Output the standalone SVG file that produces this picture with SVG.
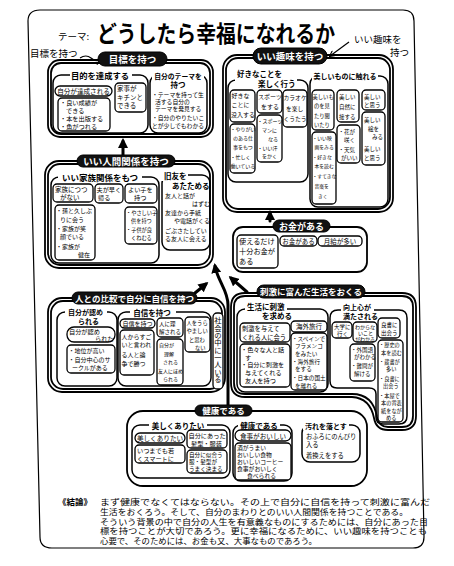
<svg xmlns="http://www.w3.org/2000/svg" width="454" height="566" viewBox="0 0 454 566">
<style>
text{font-family:"Noto Sans CJK JP","Noto Sans CJK SC",sans-serif;fill:#000}
.hd{font-weight:700}
.box{fill:#fff;stroke:#000;stroke-width:1.3}
.grp{fill:none;stroke:#000;stroke-width:1.5}
.out{fill:none;stroke:#000;stroke-width:1.8}
.pill{fill:#111;stroke:#000;stroke-width:1}
.pt{font-weight:700;fill:#fff;text-anchor:middle}
.hb{fill:#fff;stroke:none}
.mid{text-anchor:middle}
.con{fill:none;stroke:#000;stroke-width:3;stroke-linecap:round}
.thin{fill:none;stroke:#000;stroke-width:1.2}
</style>
<defs>
<marker id="ah" viewBox="0 0 10 10" refX="7" refY="5" markerWidth="10" markerHeight="10" markerUnits="userSpaceOnUse" orient="auto"><path d="M0,0 L10,5 L0,10 z" fill="#000"/></marker>
<marker id="as" viewBox="0 0 10 10" refX="8" refY="5" markerWidth="7" markerHeight="7" markerUnits="userSpaceOnUse" orient="auto"><path d="M1,1 L9,5 L1,9" fill="none" stroke="#000" stroke-width="1.6"/></marker>
</defs>
<rect width="454" height="566" fill="#fff"/>
<path d="M40,10 H403 Q414,10 414,21 L424,537 Q424,548 413,548 H52 Q40,548 40,537 L28,21 Q28,10 40,10 Z" fill="none" stroke="#000" stroke-width="1.2"/>

<g id="title">
<text x="58" y="40" font-size="9.5">テーマ:</text>
<text transform="translate(97,42) scale(1,1.15)" x="0" y="0" font-size="19.8" class="hd" textLength="238" lengthAdjust="spacingAndGlyphs">どうしたら幸福になれるか</text>
<text x="30" y="57" font-size="9.5">目標を持つ</text>
<text x="354" y="43" font-size="9.5">いい趣味を</text>
<text x="390" y="56" font-size="9.5">持つ</text>
</g>

<g id="connectors">
<path class="thin" d="M80,58 Q86,54 91,58 T100,60" marker-end="url(#as)"/>
<path class="thin" d="M349,42 L330,56" marker-end="url(#as)"/>
<path class="con" d="M123,155 V141" marker-end="url(#ah)"/>
<path class="con" d="M270,221 V213" marker-end="url(#ah)"/>
<path class="con" d="M228,405 V305 C228,290 218,282 215,266" marker-end="url(#ah)"/>
<path class="con" d="M247,292 L231,278" marker-end="url(#ah)"/>
<path class="con" d="M195,293 L206,284" marker-end="url(#ah)"/>
</g>

<g id="n-goal">
<rect class="out" x="48" y="60" width="165" height="77" rx="12"/>
<rect class="out" x="51" y="63" width="159" height="71" rx="10"/>
<rect class="grp" x="53" y="75" width="95" height="58" rx="8"/>
<rect class="hb" x="70" y="70" width="62" height="10"/>
<text class="hd mid" x="100" y="79" font-size="8.3">目的を達成する</text>
<rect class="grp" x="150" y="75" width="57" height="58" rx="8"/>
<rect class="hb" x="152" y="70" width="52" height="10"/>
<text class="hd mid" x="178" y="78.5" font-size="6.8">自分のテーマを</text>
<text class="hd mid" x="178" y="88" font-size="7.5">持つ</text>
<rect class="box" x="55" y="86" width="57" height="10" rx="5"/>
<text class="mid" x="83.5" y="93.5" font-size="6.6">自分が達成される</text>
<rect class="box" x="58" y="98" width="52" height="33" rx="4"/>
<text font-size="6.2"><tspan x="60" y="105">・良い成績が</tspan><tspan x="66" y="113">できる</tspan><tspan x="60" y="121">・本を出版する</tspan><tspan x="60" y="129">・魚がつれる</tspan></text>
<rect class="box" x="115" y="83" width="31" height="29" rx="4"/>
<text font-size="6.5"><tspan x="117" y="91">家事が</tspan><tspan x="117" y="99.5">キチンと</tspan><tspan x="117" y="108">できる</tspan></text>
<text font-size="5.8"><tspan x="152" y="97">・テーマを持って生</tspan><tspan x="155" y="104">活する自分の</tspan><tspan x="155" y="111">テーマを発見する</tspan><tspan x="152" y="120">・自分のやりたいこ</tspan><tspan x="152" y="127.5">とが少しでもわかる</tspan></text>
<rect class="pill" x="98" y="52" width="69" height="14" rx="7"/>
<text class="pt" x="132.5" y="62.8" font-size="9.5">目標を持つ</text>
</g>

<g id="n-hobby">
<rect class="out" x="223" y="55" width="170" height="157" rx="14"/>
<rect class="out" x="226" y="58" width="164" height="151" rx="12"/>
<rect class="grp" x="228" y="80" width="80" height="102" rx="8"/>
<rect class="hb" x="235" y="70" width="62" height="19"/>
<text class="hd" x="237" y="77" font-size="7.5">好きなことを</text>
<text class="hd" x="258" y="86.5" font-size="7.5">楽しく行う</text>
<rect class="grp" x="310" y="76" width="78" height="131" rx="8"/>
<rect class="hb" x="312" y="71" width="66" height="10"/>
<text class="hd mid" x="345" y="79" font-size="7">美しいものに触れる</text>
<rect class="box" x="230" y="90" width="25" height="32" rx="4"/>
<text font-size="6"><tspan x="231.5" y="98">好きな</tspan><tspan x="231.5" y="107">ことに</tspan><tspan x="231" y="117">没入する</tspan></text>
<rect class="box" x="230" y="124" width="25" height="49" rx="4"/>
<text font-size="5"><tspan x="230.5" y="131">・やりがい</tspan><tspan x="233" y="140">のある仕</tspan><tspan x="233" y="149">事をもつ</tspan><tspan x="230.5" y="159">・忙しく</tspan><tspan x="230.5" y="168">働いている</tspan></text>
<rect class="box" x="257" y="90" width="25" height="23" rx="4"/>
<text font-size="6"><tspan x="258" y="99">スポーツ</tspan><tspan x="261" y="109">をする</tspan></text>
<rect class="box" x="257" y="115" width="25" height="47" rx="4"/>
<text font-size="5"><tspan x="257.5" y="123">・スポーツ</tspan><tspan x="262" y="132">マンに</tspan><tspan x="268" y="141">なる</tspan><tspan x="257.5" y="150">・いい汗</tspan><tspan x="262" y="158">をかく</tspan></text>
<rect class="box" x="283" y="90" width="24" height="37" rx="4"/>
<text font-size="5.8"><tspan x="283.5" y="100">カラオケ</tspan><tspan x="286" y="111">を楽し</tspan><tspan x="283.5" y="121">くうたう</tspan></text>
<rect class="box" x="312" y="90" width="22" height="40" rx="4"/>
<text font-size="5.3"><tspan x="312.5" y="98.5">美しいも</tspan><tspan x="314" y="108">のを見</tspan><tspan x="314" y="117.5">たり聞</tspan><tspan x="314" y="127">いたり</tspan></text>
<rect class="box" x="312" y="132" width="24" height="72" rx="4"/>
<text font-size="4.8"><tspan x="312.5" y="140">・いい映</tspan><tspan x="314.5" y="149">画をみる</tspan><tspan x="312.5" y="159">・好きな</tspan><tspan x="314.5" y="168">本を読む</tspan><tspan x="312.5" y="178">・すてきな</tspan><tspan x="314.5" y="188">音楽を</tspan><tspan x="318" y="198">きく</tspan></text>
<rect class="box" x="337" y="90" width="22" height="32" rx="4"/>
<text font-size="5.5"><tspan x="339" y="99">美しい</tspan><tspan x="339" y="109">自然に</tspan><tspan x="339" y="119">接する</tspan></text>
<rect class="box" x="337" y="125" width="23" height="38" rx="4"/>
<text font-size="5.5"><tspan x="338.5" y="134">・花が</tspan><tspan x="344" y="142">咲く</tspan><tspan x="338.5" y="152">・天気</tspan><tspan x="341" y="160">がいい</tspan></text>
<rect class="box" x="362" y="90" width="23" height="20" rx="4"/>
<text font-size="5.5"><tspan x="364" y="98.5">美しい</tspan><tspan x="364" y="107">と思う</tspan></text>
<rect class="box" x="362" y="112" width="23" height="53" rx="4"/>
<text font-size="5.5"><tspan x="364" y="122">美しい</tspan><tspan x="368" y="131">絵を</tspan><tspan x="372" y="139">みる</tspan><tspan x="364" y="151">美しい</tspan><tspan x="364" y="160">と思う</tspan></text>
<rect class="pill" x="253" y="48" width="74" height="16" rx="8"/>
<text class="pt" x="290" y="59.5" font-size="9.5">いい趣味を持つ</text>
</g>

<g id="n-relation">
<rect class="out" x="45" y="161" width="168" height="107" rx="14"/>
<rect class="out" x="48" y="164" width="162" height="101" rx="12"/>
<rect class="grp" x="51" y="177" width="108" height="86" rx="8"/>
<rect class="hb" x="58" y="172" width="84" height="10"/>
<text class="hd mid" x="100" y="180.5" font-size="8.5">いい家族関係をもつ</text>
<rect class="grp" x="162" y="175" width="48" height="75" rx="8"/>
<rect class="hb" x="161" y="170" width="27" height="11"/>
<text class="hd" x="164" y="179" font-size="7.5">旧友を</text>
<text class="hd" x="172" y="189" font-size="7.5">あたためる</text>
<text font-size="6"><tspan x="165" y="198">友人と話が</tspan><tspan x="192" y="205.5">はずむ</tspan><tspan x="165" y="215">友達から手紙</tspan><tspan x="174" y="223">や電話がくる</tspan><tspan x="165" y="233">ごぶさたしてい</tspan><tspan x="165" y="241">る友人に会える</tspan></text>
<rect class="box" x="53" y="184" width="40" height="18" rx="4"/>
<text font-size="6.5"><tspan x="55" y="191.5">家族につつ</tspan><tspan x="60" y="199.5">がない</tspan></text>
<rect class="box" x="55" y="205" width="40" height="55" rx="4"/>
<text font-size="6"><tspan x="56" y="213">・孫と久しぶ</tspan><tspan x="60" y="221.5">りに会う</tspan><tspan x="56" y="230.5">・家族が笑</tspan><tspan x="60" y="239">顔でいる</tspan><tspan x="56" y="248.5">・家族が</tspan><tspan x="78" y="257">健在</tspan></text>
<rect class="box" x="95" y="184" width="28" height="19" rx="4"/>
<text font-size="6.2"><tspan x="96.5" y="192">夫が早く</tspan><tspan x="98" y="200">帰る</tspan></text>
<rect class="box" x="125" y="184" width="32" height="19" rx="4"/>
<text font-size="6.2"><tspan x="128" y="192">よい子を</tspan><tspan x="134" y="200">持つ</tspan></text>
<rect class="box" x="125" y="207" width="32" height="37" rx="4"/>
<text font-size="5.2"><tspan x="126" y="215">・やさしい子</tspan><tspan x="131" y="223">供を持つ</tspan><tspan x="126" y="232">・子供が良</tspan><tspan x="131" y="240">くねむる</tspan></text>
<rect class="pill" x="77" y="155" width="98" height="12" rx="6"/>
<text class="pt" x="126" y="164.7" font-size="9.5">いい人間関係を持つ</text>
</g>

<g id="n-money">
<rect class="out" x="233" y="227" width="134" height="45" rx="10"/>
<rect class="box" x="237" y="235" width="41" height="33" rx="4"/>
<text font-size="7.2"><tspan x="239" y="244">使えるだけ</tspan><tspan x="239" y="254">十分お金が</tspan><tspan x="239" y="264">ある</tspan></text>
<rect class="box" x="280" y="236" width="37" height="10" rx="4"/>
<text class="mid" x="298.5" y="243.5" font-size="6.5">お金がある</text>
<rect class="box" x="318" y="236" width="44" height="10" rx="4"/>
<text class="mid" x="340" y="243.5" font-size="6.5">月給が多い</text>
<rect class="pill" x="273" y="220" width="57" height="12" rx="6"/>
<text class="pt" x="301.5" y="229.8" font-size="9">お金がある</text>
</g>

<g id="n-confidence">
<rect class="out" x="48" y="298" width="177" height="94" rx="14"/>
<rect class="out" x="51" y="301" width="171" height="88" rx="12"/>
<rect class="grp" x="57" y="312" width="60" height="74" rx="8"/>
<rect class="hb" x="65" y="307" width="42" height="10"/>
<text class="hd" x="68" y="315" font-size="7">自分が認め</text>
<text class="hd" x="78" y="324" font-size="7">られる</text>
<rect class="box" x="67" y="327" width="48" height="15" rx="7"/>
<text font-size="6.2"><tspan x="69" y="334">自分が認め</tspan><tspan x="95" y="341">られた</tspan></text>
<rect class="box" x="67" y="345" width="48" height="28" rx="4"/>
<text font-size="6"><tspan x="68.5" y="353">・地位が高い</tspan><tspan x="68.5" y="361.5">・自分中心のサ</tspan><tspan x="72" y="370">ークルがある</tspan></text>
<rect class="grp" x="118" y="312" width="93" height="74" rx="8"/>
<rect class="hb" x="130" y="307" width="46" height="10"/>
<text class="hd mid" x="152" y="315.5" font-size="7.5">自信を持つ</text>
<rect class="box" x="120" y="319" width="35" height="9" rx="4.5"/>
<text class="mid" x="137.5" y="326" font-size="6">自信を持つ</text>
<rect class="box" x="120" y="330" width="34" height="45" rx="4"/>
<text font-size="6"><tspan x="121.5" y="338.5">人からすご</tspan><tspan x="121.5" y="347">いと言われ</tspan><tspan x="121.5" y="357">る人と論</tspan><tspan x="121.5" y="366">争で勝つ</tspan></text>
<rect class="box" x="157" y="318" width="26" height="19" rx="4"/>
<text font-size="5.5"><tspan x="159" y="326">人に理</tspan><tspan x="159" y="334">解される</tspan></text>
<rect class="box" x="157" y="339" width="26" height="46" rx="4"/>
<text font-size="5"><tspan x="159" y="347">自分が</tspan><tspan x="164" y="355.5">理解</tspan><tspan x="163" y="364">される</tspan><tspan x="158" y="372.5">友人にほめ</tspan><tspan x="163" y="381">られる</tspan></text>
<rect class="box" x="185" y="317" width="25" height="35" rx="4"/>
<text font-size="5.3"><tspan x="186.5" y="325">人をうら</tspan><tspan x="186.5" y="333">やましい</tspan><tspan x="189" y="341.5">と思わ</tspan><tspan x="195" y="349.5">ない</tspan></text>
<rect class="box" x="213" y="313" width="10" height="76" rx="4"/>
<text x="218" y="317" font-size="7.3" style="writing-mode:vertical-rl">社会の中に一人いる</text>
<rect class="pill" x="72" y="292" width="125" height="12" rx="6"/>
<text class="pt" x="134.5" y="301.5" font-size="8.5">人との比較で自分に自信を持つ</text>
</g>

<g id="n-stimulus">
<path class="out" d="M245,293 H402 Q416,293 416,307 V416 Q416,430 402,430 H388 Q376,430 374,418 Q370,398 352,397 H245 Q231,397 231,383 V307 Q231,293 245,293 Z"/>
<path class="out" d="M245,296 H402 Q413,296 413,307 V416 Q413,427 402,427 H388 Q379,427 377,417 Q373,394 352,394 H245 Q234,394 234,383 V307 Q234,296 245,296 Z"/>
<rect class="grp" x="237" y="309" width="91" height="83" rx="8"/>
<rect class="hb" x="245" y="304" width="42" height="8"/>
<text class="hd" x="247" y="310" font-size="7.5">生活に刺激</text>
<text class="hd" x="262" y="318.5" font-size="7.5">を求める</text>
<rect class="box" x="240" y="323" width="50" height="19" rx="4"/>
<text font-size="6.3"><tspan x="242" y="331">刺激を与えて</tspan><tspan x="242" y="339.5">くれる人に会う</tspan></text>
<rect class="box" x="240" y="344" width="50" height="43" rx="4"/>
<text font-size="6.2"><tspan x="241" y="352">・色々な人と話</tspan><tspan x="245" y="359.5">す</tspan><tspan x="241" y="367">・自分に刺激を</tspan><tspan x="245" y="375">与えてくれる</tspan><tspan x="245" y="383">友人を持つ</tspan></text>
<rect class="box" x="291" y="321" width="36" height="11" rx="4"/>
<text class="mid" x="309" y="329" font-size="6.5">海外旅行</text>
<rect class="box" x="291" y="333" width="36" height="57" rx="4"/>
<text font-size="5.6"><tspan x="292" y="340.5">・スペインで</tspan><tspan x="295" y="348">フラメンコ</tspan><tspan x="295" y="355.5">をみたい</tspan><tspan x="292" y="363.5">・海外旅行</tspan><tspan x="295" y="371">をする</tspan><tspan x="292" y="379.5">・日本の国土</tspan><tspan x="295" y="387.5">を離れる</tspan></text>
<path class="grp" d="M338,310 H399 Q407,310 407,318 V416 Q407,424 399,424 H383 Q376,424 376,417 V394 Q376,388 369,388 H337 Q330,388 330,381 V318 Q330,310 338,310 Z"/>
<rect class="hb" x="341" y="305" width="33" height="8"/>
<text class="hd" x="343" y="310" font-size="7">向上心が</text>
<text class="hd" x="343" y="318.5" font-size="7">満たされる</text>
<rect class="box" x="332" y="322" width="20" height="16" rx="4"/>
<text font-size="5.5"><tspan x="334" y="329">大学に</tspan><tspan x="337" y="336">行く</tspan></text>
<rect class="box" x="353" y="322" width="24" height="20" rx="4"/>
<text font-size="5"><tspan x="355" y="328.5">わからな</tspan><tspan x="358" y="334.5">いこと</tspan><tspan x="355" y="340.5">がわかる</tspan></text>
<rect class="box" x="350" y="344" width="25" height="37" rx="4"/>
<text font-size="5.5"><tspan x="351" y="351.5">・外国語</tspan><tspan x="354" y="359">がわかる</tspan><tspan x="351" y="367.5">・難問が</tspan><tspan x="354" y="375.5">解ける</tspan></text>
<rect class="box" x="378" y="318" width="22" height="20" rx="4"/>
<text font-size="5.5"><tspan x="381" y="326.5">良書に</tspan><tspan x="381" y="334.5">出会う</tspan></text>
<rect class="box" x="378" y="340" width="25" height="82" rx="4"/>
<text font-size="5.2"><tspan x="379" y="347">・歴史の</tspan><tspan x="381" y="354.5">本を読む</tspan><tspan x="379" y="363.5">・蔵書が</tspan><tspan x="386" y="371">多い</tspan><tspan x="379" y="380.5">・良書に</tspan><tspan x="383" y="388">出会う</tspan><tspan x="379" y="397.5">・本屋で</tspan><tspan x="381" y="405">本の背表</tspan><tspan x="381" y="413">紙をなが</tspan><tspan x="386" y="420">める</tspan></text>
<rect class="pill" x="257" y="285" width="108" height="13" rx="6.5"/>
<text class="pt" x="311" y="295" font-size="8.5">刺激に富んだ生活をおくる</text>
</g>

<g id="n-health">
<rect class="out" x="127" y="411" width="240" height="75" rx="16"/>
<rect class="grp" x="132" y="425" width="98" height="53" rx="8"/>
<rect class="hb" x="149" y="420" width="58" height="10"/>
<text class="hd mid" x="178" y="428.5" font-size="7.5">美しくありたい</text>
<rect class="box" x="135" y="433" width="50" height="10" rx="5"/>
<text class="mid" x="160" y="440.8" font-size="6.6">美しくありたい</text>
<rect class="box" x="135" y="445" width="50" height="18" rx="4"/>
<text font-size="6.2"><tspan x="137" y="452.5">いつまでも若</tspan><tspan x="137" y="460.5">くスマートに</tspan></text>
<rect class="box" x="187" y="430" width="40" height="18" rx="4"/>
<text font-size="6.2"><tspan x="188.5" y="438">自分にあった</tspan><tspan x="191" y="446">髪型・服装</tspan></text>
<rect class="box" x="187" y="450" width="40" height="23" rx="4"/>
<text font-size="5.6"><tspan x="189" y="457">自分に似合う</tspan><tspan x="189" y="464">服・髪型が</tspan><tspan x="189" y="471">うまく決まる</tspan></text>
<rect class="grp" x="233" y="425" width="59" height="56" rx="8"/>
<rect class="hb" x="238" y="420" width="42" height="10"/>
<text class="hd mid" x="259" y="428.5" font-size="7.5">健康である</text>
<rect class="box" x="235" y="430" width="56" height="11" rx="5.5"/>
<text class="mid" x="263" y="438.5" font-size="6.6">食事がおいしい</text>
<rect class="box" x="235" y="443" width="56" height="37" rx="4"/>
<text font-size="5.8"><tspan x="237" y="450">酒がうまい</tspan><tspan x="237" y="457">おいしい食物</tspan><tspan x="237" y="464">おいしいコーヒー</tspan><tspan x="237" y="471">食事がおいしく</tspan><tspan x="247" y="478">食べられる</tspan></text>
<rect class="grp" x="302" y="425" width="58" height="37" rx="8"/>
<rect class="hb" x="303" y="420" width="46" height="10"/>
<text class="hd" x="305" y="428.5" font-size="7">汚れを落とす</text>
<text font-size="6.3"><tspan x="306" y="439">おふろにのんびり</tspan><tspan x="306" y="447">入る</tspan><tspan x="306" y="458">着換えをする</tspan></text>
<rect class="pill" x="195" y="405" width="57" height="11" rx="5.5"/>
<text class="pt" x="223.5" y="414" font-size="8.5">健康である</text>
</g>

<g id="conclusion" font-size="7.8">
<text x="58" y="505" class="hd" font-size="8.5">《結論》</text>
<text x="100" y="505" textLength="330" lengthAdjust="spacingAndGlyphs">まず健康でなくてはならない。その上で自分に自信を持って刺激に富んだ</text>
<text x="100" y="515" textLength="308" lengthAdjust="spacingAndGlyphs">生活をおくろう。そして、自分のまわりとのいい人間関係を持つことである。</text>
<text x="100" y="524.5" textLength="328" lengthAdjust="spacingAndGlyphs">そういう背景の中で自分の人生を有意義なものにするためには、自分にあった目</text>
<text x="100" y="534" textLength="327" lengthAdjust="spacingAndGlyphs">標を持つことが大切であろう。更に幸福になるために、いい趣味を持つことも</text>
<text x="100" y="543.5" textLength="217" lengthAdjust="spacingAndGlyphs">心要で、そのためには、お金も又、大事なものであろう。</text>
</g>
</svg>
